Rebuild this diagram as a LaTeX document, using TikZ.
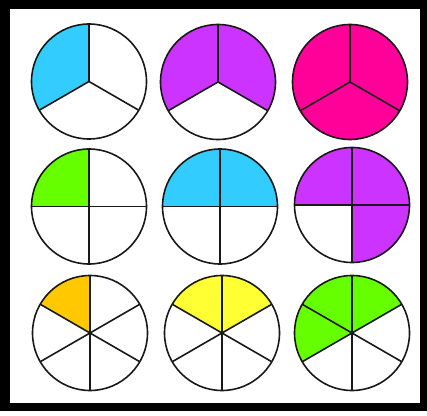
\documentclass[tikz,border=0pt]{standalone}
\usepackage{amsmath,amssymb}
\usepackage{tikz}
\usetikzlibrary{positioning}
\definecolor{piecyan}{HTML}{33CCFF}
\definecolor{piepurple}{HTML}{CC33FF}
\definecolor{piepink}{HTML}{FF0099}
\definecolor{piegreen}{HTML}{66FF00}
\definecolor{pieorange}{HTML}{FFC800}
\definecolor{pieyellow}{HTML}{FFFF33}
\tikzset{piecut/.style={line width=1.6pt,black!90}}
\begin{document}
\begin{tikzpicture}[x=1pt,y=1pt]
	\useasboundingbox (0,0) rectangle (427,415);
	\fill [black] (0,4) rectangle (427,415);
	\fill [white] (10,12) rectangle (420,406);
	\coordinate (c11) at (89,333.5);
	\coordinate (c12) at (218,333);
	\coordinate (c13) at (350,333);
	\coordinate (c21) at (89,208.5);
	\coordinate (c22) at (220,208.5);
	\coordinate (c23) at (352,210);
	\coordinate (c31) at (90,82);
	\coordinate (c32) at (222,82);
	\coordinate (c33) at (352,82);
	% thirds
	\fill [piecyan] (c11) -- ++(90:57.5) arc (90:210:57.5) -- cycle;
	\fill [piepurple] (c12) -- ++(-30:57.5) arc (-30:210:57.5) -- cycle;
	\fill [piepink] (c13) circle (57.5);
	\draw [piecut] (c11) circle (57.5);
	\draw [piecut] (c12) circle (57.5);
	\draw [piecut] (c13) circle (57.5);
	\draw [piecut] (c11)--++(90:57.5) (c11)--++(210:57.5) (c11)--++(330:57.5);
	\draw [piecut] (c12)--++(90:57.5) (c12)--++(210:57.5) (c12)--++(330:57.5);
	\draw [piecut] (c13)--++(90:57.5) (c13)--++(210:57.5) (c13)--++(330:57.5);
	% quarters
	\fill [piegreen] (c21) -- ++(90:57.5) arc (90:180:57.5) -- cycle;
	\fill [piecyan] (c22) -- ++(0:57.5) arc (0:180:57.5) -- cycle;
	\fill [piepurple] (c23) -- ++(-90:57.5) arc (-90:180:57.5) -- cycle;
	\draw [piecut] (c21) circle (57.5);
	\draw [piecut] (c22) circle (57.5);
	\draw [piecut] (c23) circle (57.5);
	\draw [piecut] (c21)++(-57.5,0)--++(115,0) (c21)++(0,-57.5)--++(0,115);
	\draw [piecut] (c22)++(-57.5,0)--++(115,0) (c22)++(0,-57.5)--++(0,115);
	\draw [piecut] (c23)++(-57.5,0)--++(115,0) (c23)++(0,-57.5)--++(0,115);
	% sixths
	\fill [pieorange] (c31) -- ++(90:57.5) arc (90:150:57.5) -- cycle;
	\fill [pieyellow] (c32) -- ++(30:57.5) arc (30:150:57.5) -- cycle;
	\fill [piegreen] (c33) -- ++(30:57.5) arc (30:210:57.5) -- cycle;
	\draw [piecut] (c31) circle (57.5);
	\draw [piecut] (c32) circle (57.5);
	\draw [piecut] (c33) circle (57.5);
	\draw [piecut] (c31)++(90:57.5)--++(270:115) (c31)++(30:57.5)--++(210:115) (c31)++(150:57.5)--++(330:115);
	\draw [piecut] (c32)++(90:57.5)--++(270:115) (c32)++(30:57.5)--++(210:115) (c32)++(150:57.5)--++(330:115);
	\draw [piecut] (c33)++(90:57.5)--++(270:115) (c33)++(30:57.5)--++(210:115) (c33)++(150:57.5)--++(330:115);
\end{tikzpicture}
\end{document}
